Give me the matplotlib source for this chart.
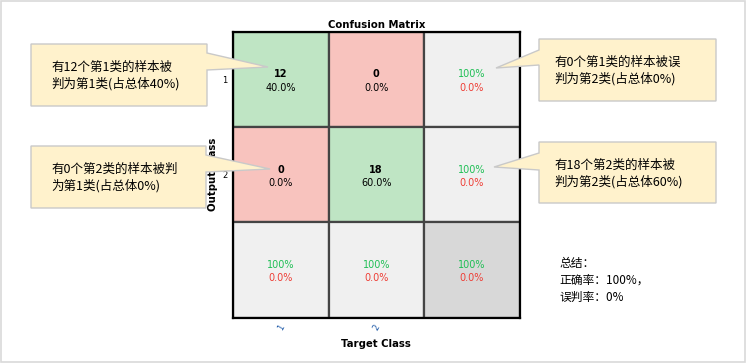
import matplotlib
matplotlib.use("Agg")
from matplotlib import pyplot as plt
from matplotlib.patches import Rectangle, Polygon
import numpy as np

plt.rcParams['font.family'] = ['Noto Sans CJK SC', 'DejaVu Sans']

# data
classes = ['1', '2']
counts = np.array([[12, 0],
                   [0, 18]])
row_right = ['100%', '100%']
row_wrong = ['0.0%', '0.0%']
col_right = ['100%', '100%']
col_wrong = ['0.0%', '0.0%']
total_right = '100%'
total_wrong = '0.0%'

notes_left = ['有12个第1类的样本被\n判为第1类(占总体40%)',
              '有0个第2类的样本被判\n为第1类(占总体0%)']
notes_right = ['有0个第1类的样本被误\n判为第2类(占总体0%)',
               '有18个第2类的样本被\n判为第2类(占总体60%)']
summary = '总结：\n正确率：100%，\n误判率：0%'

W, H = 746, 363
fig = plt.figure(figsize=(W / 100, H / 100), dpi=100)
fig.patch.set_facecolor('white')

# matrix axes
x0, x1, y0, y1 = 233, 519.5, 32, 317.5
ax = fig.add_axes([x0 / W, 1 - y1 / H, (x1 - x0) / W, (y1 - y0) / H])
n = len(classes)
ax.set_xlim(0, n + 1)
ax.set_ylim(n + 1, 0)

green, red, grey, dgrey = '#bfe5c4', '#f8c3be', '#f0f0f0', '#d8d8d8'
tgreen, tred = '#1fbf55', '#ee3d35'
total = counts.sum()
for i in range(n + 1):
    for j in range(n + 1):
        if i < n and j < n:
            fc = green if i == j else red
        elif i == n and j == n:
            fc = dgrey
        else:
            fc = grey
        ax.add_patch(Rectangle((j, i), 1, 1, facecolor=fc, edgecolor='#444444', lw=1.6))
        cx, cy = j + 0.5, i + 0.5
        if i < n and j < n:
            ax.text(cx, cy - 0.055, str(counts[i, j]), ha='center', va='center',
                    fontsize=7, fontweight='bold', family='DejaVu Sans')
            ax.text(cx, cy + 0.085, '{:.1f}%'.format(100 * counts[i, j] / total),
                    ha='center', va='center', fontsize=7, family='DejaVu Sans')
        else:
            if i < n:
                a, b = row_right[i], row_wrong[i]
            elif j < n:
                a, b = col_right[j], col_wrong[j]
            else:
                a, b = total_right, total_wrong
            ax.text(cx, cy - 0.055, a, ha='center', va='center', fontsize=7,
                    color=tgreen, family='DejaVu Sans')
            ax.text(cx, cy + 0.085, b, ha='center', va='center', fontsize=7,
                    color=tred, family='DejaVu Sans')

for s in ax.spines.values():
    s.set_color('black')
    s.set_linewidth(1.6)
ax.set_xticks(np.arange(n) + 0.5)
ax.set_xticklabels(classes, rotation=60, fontsize=6, color='#1f5aa8', family='DejaVu Sans')
ax.set_yticks(np.arange(n) + 0.5)
ax.set_yticklabels(classes, fontsize=6, family='DejaVu Sans')
ax.tick_params(length=0, pad=4)
ax.set_title('Confusion Matrix', fontsize=7.3, fontweight='bold', pad=3, family='DejaVu Sans')
ax.set_xlabel('Target Class', fontsize=7.3, fontweight='bold', labelpad=5, family='DejaVu Sans')
ax.set_ylabel('Output Class', fontsize=7.3, fontweight='bold', labelpad=3, family='DejaVu Sans')

# overlay for callouts, pixel coordinates
ov = fig.add_axes([0, 0, 1, 1], zorder=5)
ov.set_xlim(0, W)
ov.set_ylim(H, 0)
ov.axis('off')
ov.patch.set_alpha(0)

box_fc, box_ec = '#fff2cc', '#c9c9c9'


def callout(bx0, by0, bx1, by1, side, base0, base1, tip, text, tx):
    if side == 'right':
        pts = [(bx0, by0), (bx1, by0), (bx1, base0), tip, (bx1, base1),
               (bx1, by1), (bx0, by1)]
    else:
        pts = [(bx0, by0), (bx1, by0), (bx1, by1), (bx0, by1),
               (bx0, base1), tip, (bx0, base0)]
    ov.add_patch(Polygon(pts, closed=True, facecolor=box_fc, edgecolor=box_ec, lw=1))
    ov.text(tx, (by0 + by1) / 2 + 1, text, ha='left', va='center', fontsize=9,
            linespacing=1.3)


callout(31, 44, 207, 106, 'right', 53, 70, (268, 67), notes_left[0], 51)
callout(31, 146, 206, 208, 'right', 155, 172, (270, 169), notes_left[1], 51)
callout(539, 39, 716, 101, 'left', 50, 65, (496, 68), notes_right[0], 554)
callout(539, 142, 716, 203, 'left', 153, 170, (494, 167), notes_right[1], 554)

ov.text(559, 280, summary, ha='left', va='center', fontsize=8.5, linespacing=1.4)

# light frame around the picture
ov.add_patch(Rectangle((0.5, 0.5), W - 2, H - 2, facecolor='none', edgecolor='#d9d9d9', lw=1.2))

fig.savefig('out.png', dpi=100)
